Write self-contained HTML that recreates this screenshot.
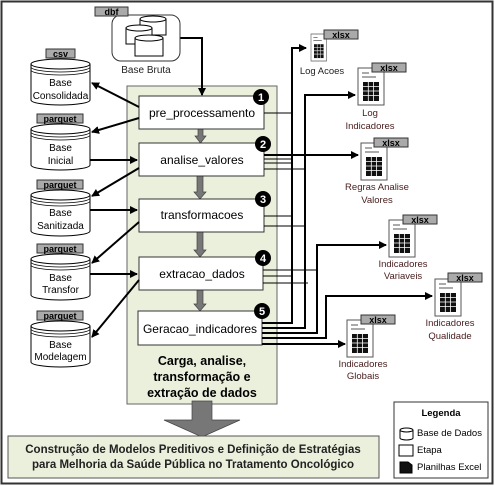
<!DOCTYPE html>
<html><head><meta charset="utf-8"><style>
html,body{margin:0;padding:0;background:#fff}
svg{display:block}
text{font-family:"Liberation Sans",sans-serif}
</style></head><body>
<svg width="495" height="486" viewBox="0 0 495 486" xmlns="http://www.w3.org/2000/svg">
<defs>
<marker id="ah" markerWidth="8" markerHeight="8" refX="7" refY="4" orient="auto" markerUnits="userSpaceOnUse"><path d="M0,0 L8,4 L0,8 z" fill="#000"/></marker>
<g id="cyl">
<path d="M0,6 L0,42 A29.5,5 0 0 0 59,42 L59,6" fill="#fff" stroke="#000" stroke-width="1"/>
<ellipse cx="29.5" cy="6" rx="29.5" ry="5" fill="#fff" stroke="#000"/>
<path d="M0,9 A29.5,5 0 0 0 59,9 M0,12 A29.5,5 0 0 0 59,12" fill="none" stroke="#000" stroke-width="0.8"/>
</g>
<g id="xl">
<rect x="0" y="0" width="26" height="37" fill="#fff" stroke="#555"/>
<line x1="4" y1="5" x2="11" y2="5" stroke="#555"/><line x1="4" y1="9" x2="18" y2="9" stroke="#555"/>
<rect x="5" y="14" width="16" height="19" fill="#111"/>
<path d="M5,18.5 H21 M5,23 H21 M5,27.5 H21 M10.3,14 V33 M15.6,14 V33" stroke="#fff" stroke-width="0.8"/>
</g>
</defs>
<rect x="1.5" y="1.5" width="491" height="482" fill="#fff" stroke="#333" stroke-width="2"/>

<!-- green panel -->
<rect x="127" y="86" width="150" height="318" fill="#ebf0dd" stroke="#666"/>
<text x="202" y="365" font-size="12.5" font-weight="bold" text-anchor="middle">Carga, analise,</text>
<text x="202" y="381" font-size="12.5" font-weight="bold" text-anchor="middle">transformação e</text>
<text x="202" y="397" font-size="12.5" font-weight="bold" text-anchor="middle">extração de dados</text>

<!-- gray step arrows -->
<g fill="#777" stroke="#444" stroke-width="0.7">
<path d="M198,129 h5 v7 h3 l-5.5,7 l-5.5,-7 h3 z"/>
<path d="M197,172 h6 v20 h3 l-6,7 l-6,-7 h3 z"/>
<path d="M197,228 h6 v22 h3 l-6,7 l-6,-7 h3 z"/>
<path d="M197,285 h6 v19 h3 l-6,7 l-6,-7 h3 z"/>
<path d="M192,401 h20 v19 h28 l-38,17 l-38,-17 h28 z"/>
</g>

<!-- step boxes -->
<g fill="#fff" stroke="#333" stroke-width="1">
<rect x="139" y="96" width="125" height="33"/>
<rect x="139" y="143" width="125" height="33"/>
<rect x="139" y="199" width="125" height="33"/>
<rect x="139" y="257" width="124" height="33"/>
<rect x="138" y="311" width="124" height="34"/>
</g>
<g font-size="12" text-anchor="middle">
<text x="202" y="117">pre_processamento</text>
<text x="202" y="164">analise_valores</text>
<text x="202" y="219">transformacoes</text>
<text x="202" y="278">extracao_dados</text>
<text x="200" y="333">Geracao_indicadores</text>
</g>
<g font-size="11" font-weight="bold" fill="#fff" text-anchor="middle">
<circle cx="261" cy="97" r="8" fill="#000"/><text x="261" y="101">1</text>
<circle cx="263" cy="144" r="8" fill="#000"/><text x="263" y="148">2</text>
<circle cx="263" cy="199" r="8" fill="#000"/><text x="263" y="203">3</text>
<circle cx="263" cy="258" r="8" fill="#000"/><text x="263" y="262">4</text>
<circle cx="262" cy="311" r="8" fill="#000"/><text x="262" y="315">5</text>
</g>

<!-- thin connectors -->
<g stroke="#000" stroke-width="1" fill="none">
<line x1="264" y1="113" x2="292" y2="113"/>
<line x1="264" y1="159" x2="292" y2="159"/>
<line x1="264" y1="163" x2="292" y2="163"/>
<line x1="264" y1="169" x2="305" y2="169"/>
<line x1="264" y1="216" x2="292" y2="216"/>
<line x1="264" y1="226" x2="305" y2="226"/>
<line x1="263" y1="270" x2="317" y2="270"/>
<line x1="263" y1="276" x2="292" y2="276"/>
<line x1="263" y1="283" x2="308" y2="283"/>
</g>
<!-- thick connectors -->
<g stroke="#000" stroke-width="2" fill="none">
<path d="M262,323 H292 V48 H306" marker-end="url(#ah)"/>
<path d="M262,328 H305 V95 H355" marker-end="url(#ah)"/>
<path d="M264,155 H358" marker-end="url(#ah)"/>
<path d="M262,333 H317 V245 H386" marker-end="url(#ah)"/>
<path d="M262,338 H326 V296 H432" marker-end="url(#ah)"/>
<path d="M262,344 H345" marker-end="url(#ah)"/>
<!-- Base Bruta down -->
<path d="M180,38 H202 V95" marker-end="url(#ah)"/>
<!-- left arrows -->
<path d="M139,107 L92,83" marker-end="url(#ah)"/>
<path d="M139,118 L92,132" marker-end="url(#ah)"/>
<path d="M90,160 L137,160" marker-end="url(#ah)"/>
<path d="M139,168 L92,196" marker-end="url(#ah)"/>
<path d="M90,210 L137,210" marker-end="url(#ah)"/>
<path d="M139,222 L92,263" marker-end="url(#ah)"/>
<path d="M90,274 L137,274" marker-end="url(#ah)"/>
<path d="M139,280 L92,337" marker-end="url(#ah)"/>
</g>

<!-- Base Bruta -->
<rect x="112" y="15" width="68" height="46" rx="9" fill="#fff" stroke="#333"/>
<g stroke="#000" fill="#fff">
<rect x="140" y="19" width="26" height="16"/><ellipse cx="153" cy="19" rx="13" ry="3"/>
<rect x="126" y="28" width="26" height="16"/><ellipse cx="139" cy="28" rx="13" ry="3"/>
<rect x="135" y="38" width="28" height="18"/><ellipse cx="149" cy="38" rx="14" ry="3"/>
</g>
<rect x="95" y="7" width="33" height="9" fill="#aaa" stroke="#333"/>
<text x="111.5" y="15" font-size="9" font-weight="bold" text-anchor="middle">dbf</text>
<text x="146" y="73" font-size="10" fill="#222" text-anchor="middle">Base Bruta</text>

<!-- databases -->
<g font-size="10" text-anchor="middle">
<use href="#cyl" x="31" y="58"/>
<rect x="46" y="49" width="29" height="9" fill="#aaa" stroke="#333"/><text x="60.5" y="57" font-size="9" font-weight="bold">csv</text>
<text x="60.5" y="86">Base</text><text x="60.5" y="99">Consolidada</text>

<use href="#cyl" x="31" y="123"/>
<rect x="37" y="114" width="46" height="9" fill="#aaa" stroke="#333"/><text x="60" y="122" font-size="9" font-weight="bold">parquet</text>
<text x="60.5" y="151">Base</text><text x="60.5" y="164">Inicial</text>

<use href="#cyl" x="31" y="189"/>
<rect x="37" y="180" width="46" height="9" fill="#aaa" stroke="#333"/><text x="60" y="188" font-size="9" font-weight="bold">parquet</text>
<text x="60.5" y="216">Base</text><text x="60.5" y="229">Sanitizada</text>

<use href="#cyl" x="31" y="253"/>
<rect x="37" y="244" width="46" height="9" fill="#aaa" stroke="#333"/><text x="60" y="252" font-size="9" font-weight="bold">parquet</text>
<text x="60.5" y="281">Base</text><text x="60.5" y="293">Transfor</text>

<use href="#cyl" x="31" y="320"/>
<rect x="37" y="311" width="46" height="9" fill="#aaa" stroke="#333"/><text x="60" y="319" font-size="9" font-weight="bold">parquet</text>
<text x="60.5" y="348">Base</text><text x="60.5" y="360">Modelagem</text>
</g>

<!-- excel icons -->
<g font-size="9.5" fill="#4a2020" text-anchor="middle">
<g transform="translate(311,34) scale(0.6,0.73)"><use href="#xl"/></g>
<rect x="324" y="30" width="34" height="9" fill="#aaa" stroke="#333"/><text x="341" y="38" font-size="9" font-weight="bold" fill="#000">xlsx</text>
<text x="322" y="74" fill="#222">Log Acoes</text>

<use href="#xl" x="358" y="68"/>
<rect x="372" y="63" width="34" height="9" fill="#aaa" stroke="#333"/><text x="389" y="71" font-size="9" font-weight="bold" fill="#000">xlsx</text>
<text x="370" y="116">Log</text><text x="370" y="129">Indicadores</text>

<use href="#xl" x="361" y="143"/>
<rect x="374" y="138" width="34" height="9" fill="#aaa" stroke="#333"/><text x="391" y="146" font-size="9" font-weight="bold" fill="#000">xlsx</text>
<text x="377" y="190">Regras Analise</text><text x="377" y="203">Valores</text>

<use href="#xl" x="389" y="220"/>
<rect x="403" y="215" width="34" height="9" fill="#aaa" stroke="#333"/><text x="420" y="223" font-size="9" font-weight="bold" fill="#000">xlsx</text>
<text x="403" y="267">Indicadores</text><text x="403" y="279">Variaveis</text>

<use href="#xl" x="435" y="279"/>
<rect x="448" y="273" width="34" height="9" fill="#aaa" stroke="#333"/><text x="465" y="281" font-size="9" font-weight="bold" fill="#000">xlsx</text>
<text x="450" y="326">Indicadores</text><text x="450" y="339">Qualidade</text>

<use href="#xl" x="347" y="320"/>
<rect x="361" y="315" width="34" height="9" fill="#aaa" stroke="#333"/><text x="378" y="323" font-size="9" font-weight="bold" fill="#000">xlsx</text>
<text x="363" y="367">Indicadores</text><text x="363" y="379">Globais</text>
</g>

<!-- bottom box -->
<rect x="8" y="436" width="371" height="42" fill="#ebf0dd" stroke="#555"/>
<text x="193" y="453" font-size="11.5" font-weight="bold" text-anchor="middle" fill="#222">Construção de Modelos Preditivos e Definição de Estratégias</text>
<text x="193" y="468" font-size="11.5" font-weight="bold" text-anchor="middle" fill="#222">para Melhoria da Saúde Pública no Tratamento Oncológico</text>

<!-- legend -->
<rect x="394" y="402" width="94" height="76" fill="#fff" stroke="#333"/>
<text x="441" y="416" font-size="9.5" font-weight="bold" text-anchor="middle">Legenda</text>
<path d="M400,430 V438 A6.5,2 0 0 0 413,438 V430" fill="#fff" stroke="#000"/>
<ellipse cx="406.5" cy="430" rx="6.5" ry="2" fill="#fff" stroke="#000"/>
<text x="417" y="436" font-size="9.5">Base de Dados</text>
<rect x="399" y="445" width="14" height="11" fill="#fff" stroke="#000"/>
<text x="417" y="453" font-size="9.5">Etapa</text>
<path d="M400,462 h8 l4,3 v8 h-12 z" fill="#111" stroke="#000"/>
<text x="417" y="470" font-size="9.5">Planilhas Excel</text>
</svg>
</body></html>
